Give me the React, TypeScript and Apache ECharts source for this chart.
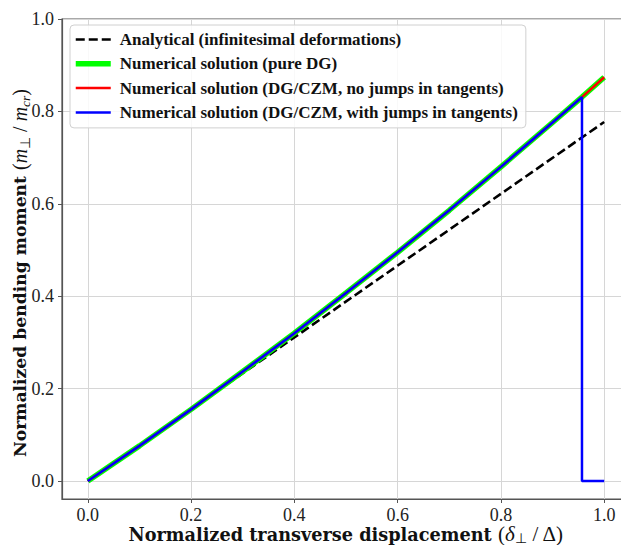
import React, { useEffect, useRef } from "react";
import * as echarts from "echarts";

// Normalized transverse displacement values
const xNumerical = [0, 0.1, 0.2, 0.3, 0.4, 0.5, 0.6, 0.7, 0.8, 0.9, 0.957, 1.0];
// Normalized bending moment, pure DG
const yPureDG = [0, 0.076, 0.155, 0.237, 0.32, 0.407, 0.495, 0.586, 0.68, 0.776, 0.831, 0.874];
// DG/CZM, no jumps in tangents
const yCzmNoJumps = [0, 0.076, 0.155, 0.237, 0.32, 0.407, 0.495, 0.586, 0.68, 0.776, 0.831, 0.874];
// DG/CZM, with jumps in tangents (fracture at ~0.957)
const xCzmJumps = [0, 0.1, 0.2, 0.3, 0.4, 0.5, 0.6, 0.7, 0.8, 0.9, 0.957, 0.957, 1.0];
const yCzmJumps = [0, 0.076, 0.155, 0.237, 0.32, 0.407, 0.495, 0.586, 0.68, 0.776, 0.831, 0, 0];
// Analytical (infinitesimal deformations)
const xAnalytical = [0, 1.0];
const yAnalytical = [0, 0.777];

const seriesNames = [
  "Analytical (infinitesimal deformations)",
  "Numerical solution (pure DG)",
  "Numerical solution (DG/CZM, no jumps in tangents)",
  "Numerical solution (DG/CZM, with jumps in tangents)",
];

const zip = (xs: number[], ys: number[]) => xs.map((x, i) => [x, ys[i]]);

const TICK_FONT = "'Liberation Serif', serif";
const BOLD_FONT = "'DejaVu Serif', serif";
const LEGEND_FONT = "'Liberation Serif', serif";
const MATH_FONT = "'Liberation Serif', serif";

const makeRich = (bold: number, math: number, sub: number, LH: number) => ({
  b: { fontFamily: BOLD_FONT, fontWeight: "bold", fontSize: bold, color: "#111", lineHeight: LH, verticalAlign: "middle" },
  n: { fontFamily: MATH_FONT, fontSize: math, color: "#111", lineHeight: LH, verticalAlign: "middle" },
  i: { fontFamily: MATH_FONT, fontStyle: "italic", fontSize: math, color: "#111", lineHeight: LH, verticalAlign: "middle" },
  s: { fontFamily: MATH_FONT, fontSize: sub, color: "#111", lineHeight: LH, verticalAlign: "bottom" },
  si: { fontFamily: MATH_FONT, fontStyle: "italic", fontSize: sub, color: "#111", lineHeight: LH, verticalAlign: "bottom" },
});

export default function App() {
  const ref = useRef<HTMLDivElement>(null);
  useEffect(() => {
    document.body.style.margin = "0";
    const chart = echarts.init(ref.current!, null, { renderer: "svg" });
    chart.setOption({
      animation: false,
      backgroundColor: "#fff",
      grid: {
        left: 62,
        top: 19,
        width: 568,
        height: 480,
        containLabel: false,
        outerBoundsMode: "none",
        show: true,
        borderColor: "#555",
        borderWidth: 1.2,
        backgroundColor: "transparent",
      },
      legend: {
        orient: "vertical",
        left: 70,
        top: 25,
        padding: [6, 8, 7, 3],
        itemWidth: 35,
        itemHeight: 14,
        itemGap: 7.3,
        backgroundColor: "rgba(255,255,255,0.85)",
        borderColor: "#d0d0d0",
        borderWidth: 1,
        borderRadius: 4,
        textStyle: { fontFamily: LEGEND_FONT, fontWeight: "bold", fontSize: 17, color: "#111", padding: [0, 0, 0, 4] },
        lineStyle: { width: "inherit" },
        itemStyle: { opacity: 0 },
        data: seriesNames,
      },
      xAxis: {
        type: "value",
        min: -0.05,
        max: 1.05,
        splitNumber: 5,
        axisLine: { show: true, onZero: false, lineStyle: { color: "#555", width: 1.2 } },
        axisTick: { show: true, inside: false, length: 4, lineStyle: { color: "#555" } },
        axisLabel: {
          showMinLabel: false,
          showMaxLabel: false,
          margin: 9,
          lineHeight: 14,
          fontFamily: TICK_FONT,
          fontSize: 18,
          color: "#222",
          formatter: (v: number) => v.toFixed(1),
        },
        splitLine: { show: true, lineStyle: { color: "#d6d6d6", width: 1 } },
        nameLocation: "middle",
        nameMoveOverlap: false,
        nameGap: 24,
        name: "{b|Normalized transverse displacement }{n|(}{i|δ}{s|⊥}{n| / Δ)}",
        nameTextStyle: { rich: makeRich(17.7, 21, 14, 22) },
      },
      yAxis: {
        type: "value",
        min: -0.039,
        max: 1.0,
        splitNumber: 5,
        axisLine: { show: true, onZero: false, lineStyle: { color: "#555", width: 1.2 } },
        axisTick: { show: true, inside: false, length: 4, lineStyle: { color: "#555" } },
        axisLabel: {
          showMinLabel: false,
          showMaxLabel: true,
          margin: 8,
          fontFamily: TICK_FONT,
          fontSize: 18,
          color: "#222",
          formatter: (v: number) => v.toFixed(1),
        },
        splitLine: { show: true, lineStyle: { color: "#d6d6d6", width: 1 } },
        nameLocation: "middle",
        nameMoveOverlap: false,
        nameGap: 30,
        nameRotate: 90,
        name: "{b|Normalized bending moment }{n|(}{i|m}{s|⊥}{n| / }{i|m}{si|cr}{n|)}",
        nameTextStyle: { rich: makeRich(17.2, 20, 13.5, 24), padding: [0, 28, 0, 0] },
      },
      series: [
        {
          name: seriesNames[0],
          type: "line",
          data: zip(xAnalytical, yAnalytical),
          symbol: "none",
          lineStyle: { color: "#000", width: 2.6, type: [9, 4] },
          itemStyle: { color: "#000" },
          z: 2,
        },
        {
          name: seriesNames[1],
          type: "line",
          data: zip(xNumerical, yPureDG),
          symbol: "none",
          lineStyle: { color: "#00ff00", width: 5.5 },
          itemStyle: { color: "#00ff00" },
          z: 3,
        },
        {
          name: seriesNames[2],
          type: "line",
          data: zip(xNumerical, yCzmNoJumps),
          symbol: "none",
          lineStyle: { color: "#ff0000", width: 2.5 },
          itemStyle: { color: "#ff0000" },
          z: 4,
        },
        {
          name: seriesNames[3],
          type: "line",
          data: zip(xCzmJumps, yCzmJumps),
          symbol: "none",
          lineStyle: { color: "#0000ff", width: 2.5 },
          itemStyle: { color: "#0000ff" },
          z: 5,
        },
      ],
    });
    return () => chart.dispose();
  }, []);
  return (
    <div style={{ position: "absolute", left: 0, top: 0, width: 621, height: 545, overflow: "hidden", background: "#fff" }}>
      <div ref={ref} style={{ width: 640, height: 545 }} />
    </div>
  );
}
